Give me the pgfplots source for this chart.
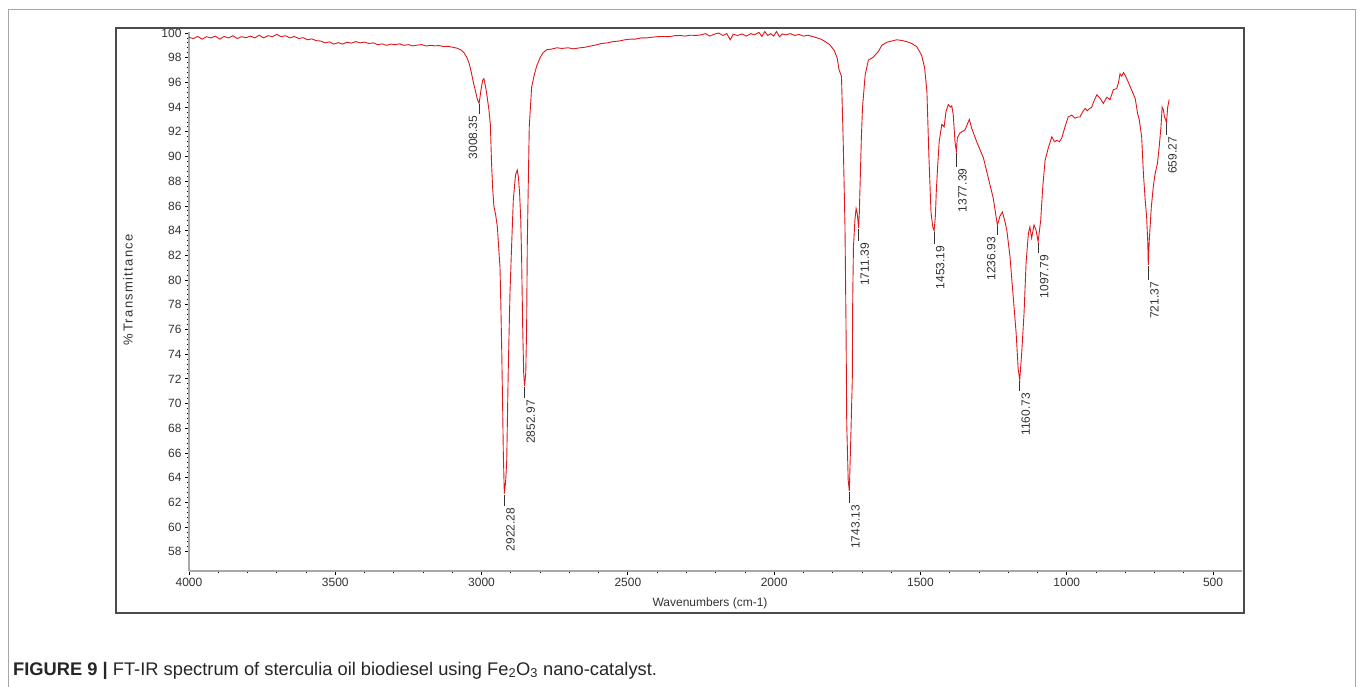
\documentclass[border=0pt]{standalone}
\usepackage{fontspec}
\setmainfont{Liberation Sans}
\usepackage{pgfplots}
\pgfplotsset{compat=1.18}
\definecolor{specred}{HTML}{E0161B}
\definecolor{axgray}{HTML}{A8A8A8}
\newcommand{\lbl}{\fontsize{12}{12}\selectfont\color{black!80}}
\newcommand{\pk}[4]{\draw[black!80, line width=0.7pt] (axis cs:#1,#2) -- ++(0pt,-#3) node[rotate=90, anchor=north east, inner sep=1.5pt, font=\lbl] {#4};}
\newcommand{\pkl}[4]{\draw[black!80, line width=0.7pt] (axis cs:#1,#2) -- ++(0pt,-#3) node[rotate=90, anchor=south east, inner sep=1.5pt, font=\lbl] {#4};}
\begin{document}
\begin{tikzpicture}
\useasboundingbox (0pt,0pt) rectangle (1360pt,-687pt);
\draw[gray!70, line width=0.8pt] (8pt,-687pt) -- (8pt,-9pt) -- (1355pt,-9pt) -- (1355pt,-687pt);
\draw[black!70, line width=1.3pt] (116pt,-28pt) rectangle (1244pt,-613pt);
\begin{axis}[
  name=ax,
  at={(189pt,-571pt)}, anchor=south west,
  scale only axis, width=1053pt, height=539pt,
  x dir=reverse, xmin=401, xmax=4000, ymin=56.44, ymax=100.08,
  axis x line*=bottom, axis y line*=left,
  axis line style={draw=axgray, line width=1.8pt, -},
  xtick={500,1000,...,4000}, minor x tick num=4,
  ytick={58,60,...,100}, minor y tick num=4,
  tick align=outside,
  major tick length=4pt, minor tick length=1.8pt,
  every major tick/.style={black, line width=0.8pt},
  every minor tick/.style={black, line width=0.8pt},
  tick label style={font=\fontsize{12}{12}\selectfont, text=black!80},
  /pgf/number format/assume math mode=true,
  /pgf/number format/1000 sep={},
  clip=false,
]
\addplot[specred, line width=0.9pt] coordinates {
(4000,99.65) (3985,99.55) (3970,99.72) (3955,99.5) (3940,99.7) (3925,99.6) (3910,99.75) (3895,99.5) (3880,99.72) (3865,99.6)
(3850,99.78) (3835,99.55) (3820,99.7) (3805,99.62) (3790,99.75) (3775,99.6) (3760,99.82) (3745,99.6) (3730,99.78) (3715,99.7)
(3700,99.88) (3685,99.7) (3670,99.78) (3655,99.6) (3640,99.72) (3625,99.55) (3610,99.62) (3595,99.45) (3580,99.52) (3565,99.38)
(3550,99.35) (3535,99.2) (3520,99.28) (3505,99.1) (3490,99.22) (3475,99.1) (3460,99.25) (3445,99.18) (3430,99.3) (3415,99.2)
(3400,99.26) (3385,99.15) (3370,99.2) (3355,99.05) (3340,99.12) (3325,99.0) (3310,99.1) (3295,99.05) (3280,99.12) (3265,99.0)
(3250,99.06) (3235,98.95) (3220,99.02) (3205,99.06) (3190,98.95) (3175,99.0) (3160,98.96) (3145,98.98) (3130,98.9) (3115,98.92)
(3100,98.85) (3085,98.78) (3070,98.62) (3060,98.4) (3050,98.0) (3042,97.5) (3035,96.8) (3028,96.0) (3020,95.2) (3014,94.6)
(3008.35,94.3) (3002,95.4) (2996,96.2) (2992,96.3) (2986,95.6) (2982,95.0) (2975,93.8) (2970,92.6) (2966,89.5) (2962,87.4)
(2958,86.0) (2952,85.3) (2946,84.3) (2942,82.8) (2937,81.0) (2934,77.8) (2931,74.1) (2928,69.7) (2925.7,66.0) (2922.28,62.7)
(2918,63.6) (2914,65.4) (2909,72.5) (2903,78.9) (2897,83.0) (2891.5,86.5) (2884,88.5) (2878,88.9) (2874,88.3) (2870,87.0)
(2866,84.8) (2863,81.6) (2859.5,76.2) (2856,72.4) (2852.97,71.4) (2849,72.5) (2846,76.2) (2843.7,83.0) (2840,88.3) (2837,92.4)
(2829,95.6) (2820,96.6) (2812,97.3) (2800,98.0) (2790,98.4) (2777,98.65) (2760,98.7) (2743,98.8) (2725,98.75) (2705,98.8)
(2685,98.72) (2664,98.8) (2645,98.85) (2626,98.95) (2606,99.05) (2590,99.15) (2570,99.2) (2551,99.3) (2530,99.35) (2510,99.45)
(2493,99.5) (2475,99.5) (2455,99.6) (2435,99.6) (2420,99.65) (2400,99.7) (2380,99.72) (2360,99.7) (2340,99.78) (2322,99.8)
(2305,99.75) (2285,99.82) (2265,99.8) (2250,99.85) (2235,99.95) (2220,99.75) (2205,99.9) (2190,100.0) (2175,99.8) (2162,99.95)
(2150,99.45) (2140,99.9) (2125,99.8) (2110,99.92) (2095,99.75) (2080,99.95) (2068,99.85) (2052,100.05) (2042,99.72) (2032,100.12)
(2022,99.8) (2012,99.95) (2002,99.75) (1992,100.12) (1982,99.7) (1972,99.92) (1960,99.85) (1945,99.95) (1930,99.8) (1915,99.88)
(1900,99.75) (1885,99.82) (1870,99.72) (1855,99.62) (1840,99.5) (1825,99.3) (1810,99.05) (1795,98.6) (1785,98.0) (1778,97.0)
(1770,96.5) (1764,91.2) (1758,84.4) (1754.5,76.5) (1752,68.4) (1747,63.8) (1743.13,62.9) (1738,67.3) (1733,71.9) (1731.5,78.6)
(1729,82.7) (1724,84.85) (1720,85.8) (1716,85.4) (1711.39,84.2) (1709,85.4) (1706,88.0) (1702,91.5) (1698,94.0) (1689,96.6)
(1678,97.8) (1661,98.05) (1644,98.5) (1632,99.0) (1615,99.25) (1598,99.35) (1581,99.45) (1565,99.4) (1547,99.3) (1530,99.15)
(1513,98.9) (1496,98.2) (1486,97.2) (1478,95.3) (1471,89.9) (1464,85.5) (1458,84.3) (1453.19,84.0) (1449,85.2) (1446,87.1)
(1441,89.3) (1436,91.2) (1427,92.6) (1419,92.4) (1413,93.6) (1405,94.2) (1397,94.0) (1393,94.1) (1388,93.4) (1382,91.2)
(1377.39,90.4) (1374,91.5) (1365,91.9) (1348,92.15) (1333,93.0) (1325,92.3) (1308,91.2) (1285,89.9) (1268,88.25) (1251,86.6)
(1242,85.2) (1236.93,84.45) (1228,85.2) (1220,85.5) (1212,84.8) (1205,84.05) (1194,81.9) (1183,78.65) (1173,75.7) (1166,72.8)
(1160.73,71.9) (1154,74.1) (1146,77.3) (1139,81.4) (1131,83.8) (1126,84.3) (1120,83.4) (1112,84.45) (1105,84.05) (1097.79,83.1)
(1089,84.85) (1082,87.55) (1074,89.7) (1063,90.7) (1051,91.6) (1042,91.2) (1034,91.3) (1025,91.2) (1017,91.5) (1006,92.4)
(995,93.2) (983,93.35) (972,93.1) (962,93.2) (955,93.2) (946,93.6) (937,93.9) (930,93.7) (926,93.8) (915,94.0)
(905,94.6) (897,95.0) (886,94.7) (875,94.3) (863,94.8) (852,94.6) (841,95.4) (829,95.5) (823,96.0) (818,96.7)
(812,96.5) (806,96.8) (801,96.6) (793,96.2) (784,95.7) (775,95.2) (766,94.7) (758,93.5) (752,92.95) (744,91.6)
(738,88.6) (732,86.5) (727,85.1) (723,83.0) (721.37,81.2) (718,83.2) (711,85.9) (704,87.6) (698,88.6) (690,89.45)
(684,90.8) (678,92.4) (674,94.0) (670,93.8) (666,93.2) (662,93.0) (659.27,92.7) (655,94.0) (650,94.6)
};
\pkl{3008.35}{94.25}{10pt}{3008.35}
\pk{2922.28}{62.6}{11pt}{2922.28}
\pk{2852.97}{71.3}{11pt}{2852.97}
\pk{1743.13}{62.8}{11pt}{1743.13}
\pk{1711.39}{84.1}{12pt}{1711.39}
\pk{1453.19}{83.9}{12pt}{1453.19}
\pk{1377.39}{90.3}{14pt}{1377.39}
\pkl{1236.93}{84.35}{9pt}{1236.93}
\pk{1160.73}{71.8}{10pt}{1160.73}
\pk{1097.79}{83.0}{10pt}{1097.79}
\pk{721.37}{81.1}{14pt}{721.37}
\pk{659.27}{92.6}{11pt}{659.27}
\end{axis}
\node[font=\fontsize{12}{12}\selectfont, text=black!80] at (710pt,-603pt) {Wavenumbers (cm-1)};
\node[rotate=90, font=\fontsize{13}{13}\selectfont\addfontfeature{LetterSpace=10}, text=black!80] at (128pt,-290pt) {\%\,Transmittance};
\node[anchor=base west, font=\fontsize{18.3}{18.3}\selectfont, text=black!85, inner sep=0pt] at (13pt,-675pt) {\textbf{FIGURE 9 |} FT-IR spectrum of sterculia oil biodiesel using Fe\textsubscript{2}O\textsubscript{3} nano-catalyst.};
\end{tikzpicture}
\end{document}
